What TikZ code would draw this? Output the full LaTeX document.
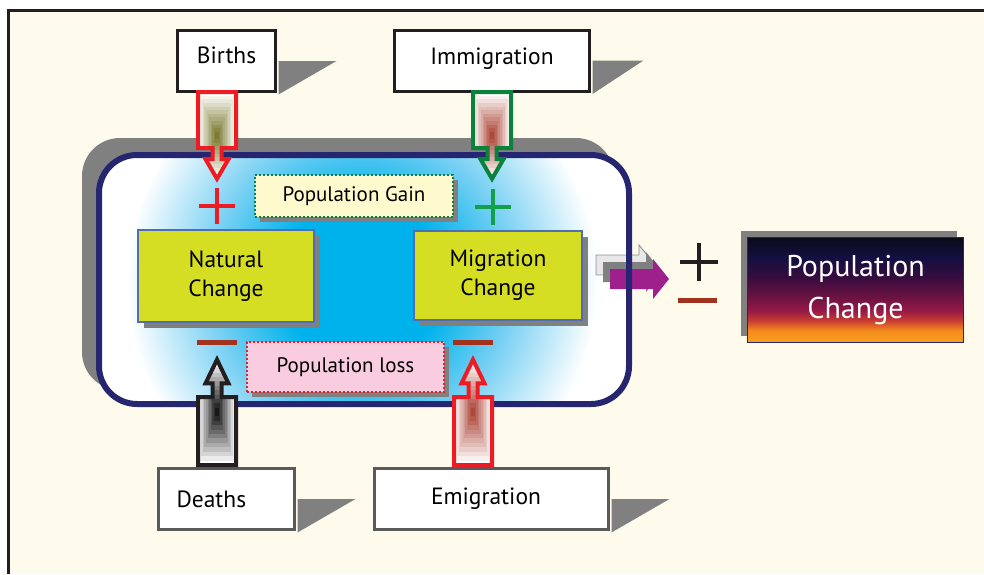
\documentclass[tikz,border=0pt]{standalone}
\usepackage{fontspec}
\setmainfont{PT Sans}
\usetikzlibrary{shadows}

\definecolor{paper}{RGB}{255,251,236}
\definecolor{frame}{RGB}{35,31,32}
\definecolor{edgegray}{RGB}{90,90,90}
\definecolor{shadowgray}{RGB}{128,128,128}
\definecolor{navy}{RGB}{38,38,112}
\definecolor{sky}{RGB}{0,178,235}
\definecolor{skylight}{RGB}{120,208,243}
\definecolor{lime}{RGB}{214,222,35}
\definecolor{limeedge}{RGB}{79,110,180}
\definecolor{plusred}{RGB}{237,28,36}
\definecolor{plusgreen}{RGB}{20,160,75}
\definecolor{arrowgreen}{RGB}{10,130,60}
\definecolor{minusred}{RGB}{160,50,30}
\definecolor{olive}{RGB}{110,110,30}
\definecolor{rust}{RGB}{165,55,40}
\definecolor{flowpurple}{RGB}{158,32,140}
\definecolor{gainfill}{RGB}{255,250,205}
\definecolor{lossfill}{RGB}{249,204,224}
\definecolor{pc0}{RGB}{250,160,30}
\definecolor{pc1}{RGB}{245,140,30}
\definecolor{pc2}{RGB}{200,60,50}
\definecolor{pc3}{RGB}{150,25,70}
\definecolor{pc4}{RGB}{100,18,65}
\definecolor{pc5}{RGB}{55,12,62}
\definecolor{pc6}{RGB}{18,16,65}
\definecolor{pc7}{RGB}{10,10,25}

% both shadings are used at their natural size
\pgfdeclareverticalshading{popchange}{220bp}{color(0bp)=(pc0); color(12bp)=(pc1); color(22bp)=(pc2); color(32bp)=(pc3); color(48bp)=(pc4); color(65bp)=(pc5); color(85bp)=(pc6); color(105bp)=(pc7)}
\pgfdeclareradialshading{gainloss}{\pgfpoint{0bp}{0bp}}{color(0bp)=(sky); color(80bp)=(sky); color(150bp)=(skylight); color(235bp)=(white); color(300bp)=(white)}

% hollow block arrow: origin, 1 = down / -1 = up, body length, outline, core colour
\newcommand\fatarrow[5]{%
  \begin{scope}[shift={(#1)}, yscale=#2]
    \def\blen{#3}
    \def\fatpath{(-19,0) -- (19,0) -- (19,\blen) -- (4.5,\blen) -- (4.5,1.2*\blen) -- (11.5,1.2*\blen)
      -- (0,1.55*\blen) -- (-11.5,1.2*\blen) -- (-4.5,1.2*\blen) -- (-4.5,\blen) -- (-19,\blen) -- cycle}
    \begin{scope}
      \clip \fatpath;
      \fill[white] (-20,0) rectangle (20,1.6*\blen);
      \foreach \k in {1,...,12} {
        \pgfmathtruncatemacro\pct{\k*100/12}
        \fill[#5!\pct!white] (-19+19*\k/12, 0.78*\blen*\k/12) rectangle (19-19*\k/12, 1.55*\blen-0.77*\blen*\k/12);
      }
    \end{scope}
    \draw[#4, line width=4] \fatpath;
  \end{scope}}

% plus and minus marks
\newcommand\plusmark[3]{\draw[#2, line width=#3] (#1) ++(-18,0) -- ++(36,0) (#1) ++(0,-18) -- ++(0,36);}
\newcommand\minusmark[3]{\draw[#2, line width=#3] (#1) ++(-20,0) -- ++(40,0);}

% flat arrow pointing right, origin at the middle of its tail
\newcommand\flowarrow[2]{\path[#2] (#1) ++(0,-10) -- ++(43,0) -- ++(0,-10) -- ++(16,20) -- ++(-16,20) -- ++(0,-10) -- ++(-43,0) -- cycle;}

\begin{document}
\begin{tikzpicture}[x=1pt, y=-1pt,
    srcbox/.style={draw=frame, fill=white, line width=3, minimum height=61, inner sep=0, font=\fontsize{23.5}{28}\selectfont},
    changebox/.style={draw=limeedge, fill=lime, line width=2, align=center, font=\fontsize{23.5}{29}\selectfont,
      drop shadow={shadow xshift=6pt, shadow yshift=-6pt, fill=shadowgray, opacity=1}},
    notebox/.style={line width=2, dash pattern=on 2pt off 2pt, font=\fontsize{21}{25}\selectfont,
      drop shadow={shadow xshift=5pt, shadow yshift=-5pt, fill=shadowgray, opacity=1}},
    ]
    \useasboundingbox (0,0) rectangle (984,574);
    \fill[white] (0,0) rectangle (984,574);
    \fill[paper] (8,10) rectangle (984,574);
    \draw[frame, line width=3] (8,574) -- (8,10) -- (984,10);

    % the region and its shadow
    \fill[shadowgray, rounded corners=38] (82,138) rectangle (614,390);
    \begin{scope}
      \clip[rounded corners=38] (99,155) rectangle (629,404);
      \fill[white] (99,155) rectangle (629,404);
      \node[inner sep=0] (glow) at (362,282) {\pgfuseshading{gainloss}};
    \end{scope}

    \coordinate (flow) at (610,279);
    \coordinate (flowback) at (596,265);
    \coordinate (flowmid) at (603,272);
    \flowarrow{flowback}{fill=black!9, draw=black!45, line width=0.8}
    \flowarrow{flowmid}{fill=shadowgray}
    \flowarrow{flow}{fill=flowpurple}

    \draw[navy, line width=6, rounded corners=38] (99,155) rectangle (629,404);

    % sources
    \node[srcbox, minimum width=98, text height=17, text depth=12] (births) at (226.5,61) {Births};
    \node[srcbox, minimum width=195, text height=17, text depth=10] (immigration) at (492,60.5) {Immigration};
    \node[srcbox, draw=edgegray, minimum width=136, text width=100, align=left] (deaths) at (226.5,499) {Deaths};
    \node[srcbox, draw=edgegray, minimum width=234, text width=121, align=left] (emigration) at (491.5,499) {Emigration};
    \foreach \n/\len in {births/58, immigration/51, deaths/58, emigration/58}
      \fill[shadowgray] ([xshift=1.5]\n.east) -- ++(\len,0) -- ([xshift=1.5, yshift=-1.5]\n.south east) -- cycle;

    \coordinate (birthsA) at (217,92);
    \coordinate (immigrationA) at (492,92);
    \coordinate (deathsA) at (217,465);
    \coordinate (emigrationA) at (473,465);
    \fatarrow{birthsA}{1}{56}{plusred}{olive}
    \fatarrow{immigrationA}{1}{56}{arrowgreen}{rust}
    \fatarrow{deathsA}{-1}{68}{frame}{black}
    \fatarrow{emigrationA}{-1}{68}{plusred}{rust}

    \coordinate (birthsS) at (217,206);
    \coordinate (immigrationS) at (493,207);
    \coordinate (deathsS) at (217,342);
    \coordinate (emigrationS) at (472.5,342);
    \plusmark{birthsS}{plusred}{3.5}
    \plusmark{immigrationS}{plusgreen}{3.5}
    \minusmark{deathsS}{minusred}{5}
    \minusmark{emigrationS}{minusred}{5}

    \node[notebox, draw=arrowgreen, fill=gainfill, minimum width=198, minimum height=42] (gain) at (354,196) {Population Gain};
    \node[notebox, draw=plusred, fill=lossfill, minimum width=197, minimum height=50] (loss) at (345.5,367) {Population loss};

    \node[changebox, minimum width=176, minimum height=92] (natural) at (226,276) {Natural\\Change};
    \node[changebox, minimum width=168, minimum height=89] (migration) at (498,275.5) {Migration\\Change};

    % the net result
    \coordinate (pmS) at (699,262);
    \draw[frame, line width=4] (pmS) ++(-19,0) -- ++(38,0) (pmS) ++(0,-19) -- ++(0,38);
    \draw[minusred, line width=5] (678,300) -- (717,300);
    \node[draw=navy, line width=1.5, text=white, align=center, minimum width=216, minimum height=105,
      font=\fontsize{30}{42}\selectfont,
      drop shadow={shadow xshift=-7pt, shadow yshift=7pt, fill=shadowgray, opacity=1},
      path picture={\node[inner sep=0] at (path picture bounding box.center) {\pgfuseshading{popchange}};}]
      (popchange) at (855.5,290) {Population\\Change};
\end{tikzpicture}
\end{document}
